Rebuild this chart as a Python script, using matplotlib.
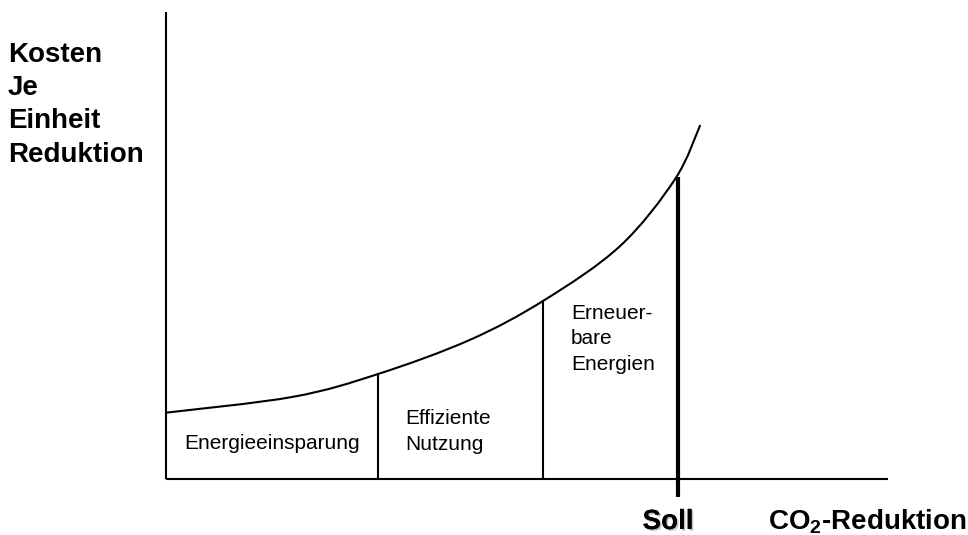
import matplotlib
matplotlib.use("Agg")
import matplotlib.pyplot as plt
import matplotlib.patheffects as pe
from matplotlib.path import Path
from matplotlib.patches import PathPatch

plt.rcParams['font.family'] = ['Liberation Sans', 'DejaVu Sans']
plt.rcParams['mathtext.fontset'] = 'custom'
plt.rcParams['mathtext.rm'] = 'Liberation Sans'
plt.rcParams['mathtext.bf'] = 'Liberation Sans:bold'

# Cost curve (axis units 0..10)
curve_x = [0.00, 1.76, 2.94, 4.21, 5.24, 6.29, 7.05, 7.40]
curve_y = [1.42, 1.76, 2.25, 2.98, 3.83, 4.99, 6.42, 7.58]

# Divider lines between measure categories
divider_x = [2.94, 5.22]
divider_top = [2.25, 3.82]

# Target ("Soll") line
soll_x = 7.09
soll_top = 6.47
soll_bottom = -0.39

categories = ["Energieeinsparung", "Effiziente\nNutzung", "Erneuer-\nbare\nEnergien"]
cat_x = [0.25, 3.31, 5.61]
cat_y = [0.77, 1.01, 3.00]

fig = plt.figure(figsize=(9.68, 5.35), dpi=100)
ax = fig.add_axes([166/968, 56/535, 722/968, 467/535])
ax.set_xlim(0, 10)
ax.set_ylim(0, 10)
ax.axis('off')

lw = 1.5
ax.plot([0, 0], [0, 10], color='black', lw=lw, solid_capstyle='butt', clip_on=False)
ax.plot([0, 10], [0, 0], color='black', lw=lw, solid_capstyle='butt', clip_on=False)

# smooth curve through the read points (Catmull-Rom as cubic Bezier path)
pts = list(zip(curve_x, curve_y))
verts = [pts[0]]
codes = [Path.MOVETO]
n = len(pts)
for i in range(n - 1):
    p0 = pts[i - 1] if i > 0 else pts[i]
    p1 = pts[i]
    p2 = pts[i + 1]
    p3 = pts[i + 2] if i + 2 < n else pts[i + 1]
    c1 = (p1[0] + (p2[0] - p0[0]) / 6, p1[1] + (p2[1] - p0[1]) / 6)
    c2 = (p2[0] - (p3[0] - p1[0]) / 6, p2[1] - (p3[1] - p1[1]) / 6)
    verts += [c1, c2, p2]
    codes += [Path.CURVE4] * 3
ax.add_patch(PathPatch(Path(verts, codes), facecolor='none', edgecolor='black',
                       lw=lw, clip_on=False))

for dx, dt in zip(divider_x, divider_top):
    ax.plot([dx, dx], [0, dt], color='black', lw=lw, clip_on=False)
ax.plot([soll_x, soll_x], [soll_bottom, soll_top], color='black', lw=3.0,
        solid_capstyle='butt', clip_on=False)

for t, x, y in zip(categories, cat_x, cat_y):
    ax.text(x, y, t, fontsize=15, ha='left', va='center', linespacing=1.45)

fig.text(8/968, 1 - 42/535, "Kosten\nJe\nEinheit\nReduktion", fontsize=20,
         fontweight='bold', ha='left', va='top', linespacing=1.36)

fig.text(668/968, 1 - 522/535, "Soll", fontsize=20, fontweight='bold',
         ha='center', va='center',
         path_effects=[pe.withSimplePatchShadow(offset=(1.2, -1.2), shadow_rgbFace='#aaaaaa', alpha=0.7), pe.Normal()])
fig.text(768/968, 1 - 522/535, r"CO$_{\mathbf{2}}$-Reduktion", fontsize=20,
         fontweight='bold', ha='left', va='center')

fig.savefig("out.png", dpi=100)
